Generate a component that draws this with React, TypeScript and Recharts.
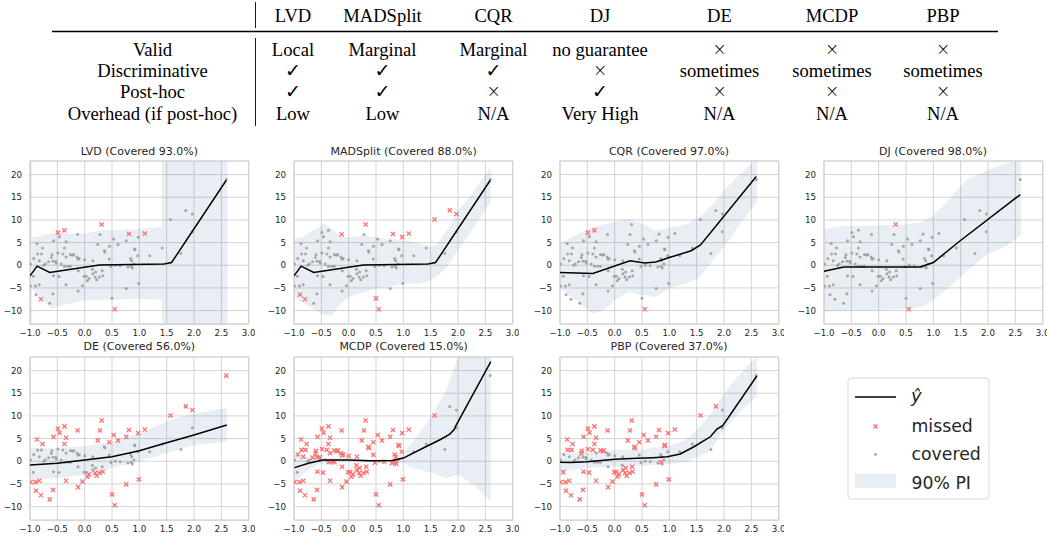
import React from 'react';
import { ComposedChart, Area, Scatter, XAxis, YAxis, CartesianGrid, ReferenceLine } from 'recharts';

// ---------- shared data points ----------
const POINT_X = [
  -0.99, -0.99, -0.94, -0.93, -0.9, -0.89, -0.87, -0.86, -0.83, -0.83,
  -0.8, -0.79, -0.77, -0.72, -0.64, -0.61, -0.6, -0.58, -0.58, -0.57,
  -0.57, -0.53, -0.49, -0.49, -0.47, -0.46, -0.4, -0.37, -0.37, -0.37,
  -0.34, -0.34, -0.34, -0.31, -0.26, -0.26, -0.2, -0.14, -0.13, -0.12,
  -0.12, -0.12, -0.04, -0.01, 0.0, 0.03, 0.05, 0.08, 0.14, 0.15,
  0.15, 0.19, 0.22, 0.24, 0.27, 0.28, 0.31, 0.32, 0.33, 0.36,
  0.37, 0.45, 0.45, 0.5, 0.53, 0.55, 0.56, 0.61, 0.76, 0.76,
  0.79, 0.81, 0.84, 0.86, 0.87, 0.91, 0.92, 0.97, 0.98, 0.99,
  1.1, 1.19, 1.42, 1.57, 1.76, 1.85, 1.97, 1.97, 2.59,
  -0.75, -0.66, -0.52, -0.43, -0.22, -0.1, 0.2, 0.48, 0.9, 0.85, 0.65,
];
const POINT_Y = [
  0.3, -4.6, -2.4, 1.5, -4.6, -6.5, 4.8, 2.5, -4.3, 1.0,
  -7.5, 2.5, 3.8, 0.3, -8.4, 1.7, 2.3, -6.3, 0.9, 5.4,
  -2.3, 0.9, 7.2, 2.7, -2.5, 6.3, 2.5, 7.7, 3.8, -0.2,
  5.2, 1.8, -4.3, -0.2, 2.4, -0.2, 2.4, 1.8, 6.8, 1.3,
  -1.2, -5.7, -4.5, -2.4, 1.2, -2.4, -3.4, -2.9, -0.9, 1.0,
  -1.9, -2.6, -3.2, 4.6, -2.6, 6.8, 9.0, -1.2, -2.3, 3.2,
  2.9, 4.2, 1.4, -7.3, 5.8, -9.7, 0.0, 4.6, 5.4, -5.1,
  -0.4, 6.9, 1.5, 1.0, -0.6, 3.6, 3.4, 2.1, 6.2, -4.0,
  7.0, 2.1, 3.8, 10.1, 2.6, 12.1, 11.3, 7.4, 18.9,
  0.0, 0.8, 0.5, 0.3, 2.2, 1.5, -1.5, -0.3, 0.3, -0.2, -0.1,
];

// ---------- axis ticks ----------
const X_TICKS = [-1, -0.5, 0, 0.5, 1, 1.5, 2, 2.5, 3];
const Y_TICKS = [-10, -5, 0, 5, 10, 15, 20];
const X_DOMAIN = [-1, 3];
const Y_DOMAIN = [-13, 23];

// ---------- LVD ----------
const LVD_BAND_X = [-1.0, -0.96, -0.96, -0.9, -0.6, -0.3, 0.0, 0.3, 0.5, 1.0, 1.2, 1.41, 1.41, 2.61];
const LVD_BAND_LO = [-13, -13, -4.8, -6.3, -9.6, -8.5, -7.7, -7.6, -7.6, -7.4, -7.5, -7.6, -13, -13];
const LVD_BAND_HI = [23, 23, 6.2, 6.3, 7.1, 7.0, 7.0, 7.7, 7.8, 8.0, 8.3, 8.5, 23, 23];
const LVD_LINE_X = [-1.0, -0.87, -0.64, 0.27, 1.45, 1.59, 2.59];
const LVD_LINE_Y = [-2.35, -0.2, -1.6, 0.05, 0.3, 0.6, 18.75];
const LVD_MISSED = [22, 27, 56, 71, 80, 10, 65];

// ---------- MADSplit ----------
const MAD_BAND_X = [-1.0, -0.85, -0.65, -0.45, -0.3, -0.15, 0.0, 0.3, 0.5, 0.8, 1.0, 1.3, 1.5, 1.6, 1.8, 2.0, 2.3, 2.6];
const MAD_BAND_HI = [5.9, 6.25, 7.7, 9.2, 8.1, 6.25, 6.2, 6.6, 6.2, 5.5, 5.5, 4.8, 4.2, 4.4, 7.7, 12.1, 16.5, 21.7];
const MAD_BAND_LO = [-7.0, -8.2, -9.6, -11.0, -11.0, -8.5, -7.0, -5.9, -5.1, -4.7, -4.0, -4.0, -3.3, -2.6, -0.4, 3.3, 8.5, 14.0];
const MAD_LINE_X = [-1.0, -0.87, -0.64, 0.27, 1.45, 1.59, 2.59];
const MAD_LINE_Y = [-2.35, -0.2, -1.6, 0.05, 0.3, 0.6, 18.75];
const MAD_MISSED = [38, 56, 71, 78, 80, 5, 10, 63, 65, 83, 85, 86];

// ---------- CQR ----------
const CQR_BAND_X = [-1.0, -0.7, -0.4, -0.2, 0.0, 0.25, 0.5, 0.75, 1.0, 1.3, 1.55, 1.8, 2.0, 2.3, 2.6];
const CQR_BAND_HI = [4.8, 6.8, 8.4, 9.0, 9.6, 10.2, 9.2, 7.6, 8.3, 9.0, 10.7, 13.5, 16.5, 20.2, 23.5];
const CQR_BAND_LO = [-5.1, -7.7, -10.7, -9.9, -7.7, -5.9, -6.6, -7.0, -5.1, -4.0, -2.6, 1.1, 4.0, 9.2, 14.0];
const CQR_LINE_X = [-1.0, -0.4, 0.28, 0.55, 0.75, 1.0, 1.4, 1.57, 2.59];
const CQR_LINE_Y = [-1.6, -1.8, 1.0, 0.5, 0.7, 1.7, 3.2, 4.5, 19.6];
const CQR_MISSED = [22, 27, 65];

// ---------- DJ ----------
const DJ_BAND_X = [-1.0, -0.7, 0.0, 0.5, 0.8, 1.0, 1.3, 1.6, 2.0, 2.3, 2.6];
const DJ_BAND_HI = [7.9, 8.6, 8.8, 9.0, 9.6, 11.0, 14.7, 18.8, 21.0, 22.4, 23.2];
const DJ_BAND_LO = [-10.3, -10.0, -9.9, -9.6, -9.2, -7.7, -4.8, -1.5, 2.6, 4.0, 6.6];
const DJ_LINE_X = [-1.0, -0.64, 0.76, 1.0, 1.48, 2.59];
const DJ_LINE_Y = [-1.3, -0.4, -0.4, 0.6, 5.3, 15.6];
const DJ_MISSED = [56, 65];

// ---------- DE ----------
const DE_BAND_X = [-1.0, -0.5, 0.0, 0.5, 1.0, 1.5, 2.0, 2.6];
const DE_BAND_HI = [2.9, 2.9, 3.3, 4.3, 6.1, 8.75, 10.6, 11.7];
const DE_BAND_LO = [-4.1, -3.75, -3.0, -1.5, 0.0, 1.8, 3.6, 4.3];
const DE_LINE_X = [-1.0, -0.5, 0.0, 0.5, 1.0, 1.5, 2.0, 2.6];
const DE_LINE_Y = [-0.8, -0.45, 0.3, 1.0, 2.3, 4.1, 5.8, 8.0];
const DE_MISSED = [1, 4, 5, 6, 8, 10, 12, 14, 17, 19, 22, 25, 27, 28, 30, 32, 38, 41, 42, 46, 47, 51, 52, 53, 54, 55, 56, 58, 61, 63, 64, 65, 67, 68, 69, 71, 78, 79, 80, 83, 85, 86, 88];

// ---------- MCDP ----------
const MCDP_BAND_X = [-1.0, -0.78, -0.53, -0.3, 0.0, 0.5, 0.8, 1.0, 1.2, 1.53, 1.78, 2.02, 2.32, 2.6];
const MCDP_BAND_HI = [1.5, 1.0, 0.8, 0.7, 0.6, 0.4, 0.5, 1.8, 4.7, 10.2, 15.7, 23.5, 24, 24];
const MCDP_BAND_LO = [-4.5, -2.3, -0.6, 0.0, 0.0, -0.2, -0.2, -0.5, -1.6, -2.6, -3.75, -3.0, -5.6, -8.8];
const MCDP_LINE_X = [-0.99, -0.72, -0.47, 0.0, 0.38, 0.8, 1.0, 1.41, 1.68, 1.85, 1.93, 1.96, 2.6];
const MCDP_LINE_Y = [-1.4, -0.4, 0.3, 0.3, 0.1, 0.15, 0.7, 3.2, 4.8, 6.0, 7.0, 7.8, 22.0];
const MCDP_COVERED = [0, 2, 13, 66, 81, 82, 84, 85, 86, 87, 88, 89, 91, 92, 97];

// ---------- PBP ----------
const PBP_BAND_X = [-1.0, -0.5, 0.0, 0.5, 1.0, 1.3, 1.5, 1.75, 2.0, 2.3, 2.6];
const PBP_BAND_HI = [1.8, 1.9, 2.5, 2.6, 3.4, 4.7, 6.9, 10.2, 15.0, 19.4, 23.0];
const PBP_BAND_LO = [-2.3, -1.5, -1.2, -1.0, -0.6, -0.1, 0.9, 2.3, 7.0, 11.0, 14.3];
const PBP_LINE_X = [-1.0, -0.8, -0.5, -0.2, 0.0, 0.41, 0.7, 0.96, 1.2, 1.45, 1.75, 1.87, 1.98, 2.6];
const PBP_LINE_Y = [-0.2, -0.3, -0.1, 0.2, 0.45, 0.65, 0.8, 1.0, 1.6, 3.2, 5.4, 7.1, 7.9, 18.8];
const PBP_COVERED = [0, 3, 9, 13, 18, 21, 29, 31, 33, 35, 37, 39, 40, 44, 48, 49, 62, 66, 70, 72, 73, 74, 77, 81, 82, 84, 86, 87, 88, 89, 90, 91, 92, 94, 96, 97, 99];

// ---------- table ----------
const TABLE_COLUMNS = ['LVD', 'MADSplit', 'CQR', 'DJ', 'DE', 'MCDP', 'PBP'];
const TABLE_ROW_LABELS = ['Valid', 'Discriminative', 'Post-hoc', 'Overhead (if post-hoc)'];
const TABLE_ROWS = [
  ['Local', 'Marginal', 'Marginal', 'no guarantee', '×', '×', '×'],
  ['✓', '✓', '✓', '×', 'sometimes', 'sometimes', 'sometimes'],
  ['✓', '✓', '×', '✓', '×', '×', '×'],
  ['Low', 'Low', 'N/A', 'Very High', 'N/A', 'N/A', 'N/A'],
];
const LEGEND_LABELS = ['ŷ', 'missed', 'covered', '90% PI'];

// ---------- layout / style ----------
const COL_LEFT = [30, 294.3, 559.7, 823.7];
const ROW_TOP = [160.7, 357.1];
const PLOT_W = 218.7;
const PLOT_H = 163.2;
const TITLE_CY = [151.7, 347.3];
const GRID = '#d3d3d3';
const BAND_FILL = '#4c72b0';
const MISS_COLOR = '#ff6f6f';
const COVER_COLOR = '#9a9a9a';
const TEXT_COLOR = '#262626';
const SANS = 'DejaVu Sans, sans-serif';
const SERIF = 'Liberation Serif, Times New Roman, serif';
const TABLE_FONT = 18.6;

const PANELS = [
  { title: 'LVD (Covered 93.0%)', bx: LVD_BAND_X, lo: LVD_BAND_LO, hi: LVD_BAND_HI, lx: LVD_LINE_X, ly: LVD_LINE_Y, missed: LVD_MISSED },
  { title: 'MADSplit (Covered 88.0%)', bx: MAD_BAND_X, lo: MAD_BAND_LO, hi: MAD_BAND_HI, lx: MAD_LINE_X, ly: MAD_LINE_Y, missed: MAD_MISSED },
  { title: 'CQR (Covered 97.0%)', bx: CQR_BAND_X, lo: CQR_BAND_LO, hi: CQR_BAND_HI, lx: CQR_LINE_X, ly: CQR_LINE_Y, missed: CQR_MISSED },
  { title: 'DJ (Covered 98.0%)', bx: DJ_BAND_X, lo: DJ_BAND_LO, hi: DJ_BAND_HI, lx: DJ_LINE_X, ly: DJ_LINE_Y, missed: DJ_MISSED },
  { title: 'DE (Covered 56.0%)', bx: DE_BAND_X, lo: DE_BAND_LO, hi: DE_BAND_HI, lx: DE_LINE_X, ly: DE_LINE_Y, missed: DE_MISSED },
  { title: 'MCDP (Covered 15.0%)', bx: MCDP_BAND_X, lo: MCDP_BAND_LO, hi: MCDP_BAND_HI, lx: MCDP_LINE_X, ly: MCDP_LINE_Y, covered: MCDP_COVERED },
  { title: 'PBP (Covered 37.0%)', bx: PBP_BAND_X, lo: PBP_BAND_LO, hi: PBP_BAND_HI, lx: PBP_LINE_X, ly: PBP_LINE_Y, covered: PBP_COVERED },
];

const fmtX = (v: number) => (v < 0 ? '\u2212' : '') + Math.abs(v).toFixed(1);
const fmtY = (v: number) => (v < 0 ? '\u2212' : '') + String(Math.abs(v));

const CoveredDot = (p: any) => <circle cx={p.cx} cy={p.cy} r={1.5} fill={COVER_COLOR} fillOpacity={0.85} />;
const MissedCross = (p: any) => {
  const s = 2.1;
  const { cx, cy } = p;
  return (
    <path
      d={`M${cx - s},${cy - s}L${cx + s},${cy + s}M${cx - s},${cy + s}L${cx + s},${cy - s}`}
      stroke={MISS_COLOR}
      strokeWidth={1.3}
      fill="none"
    />
  );
};
const NoShape = () => <g />;

function Panel({ spec, left, top, titleCy }: any) {
  const YW = 40;
  const MT = 6;
  const MR = 6;
  const XH = 22;
  const W = YW + PLOT_W + MR;
  const H = MT + PLOT_H + XH;
  const bandData = spec.bx.map((x: number, i: number) => ({ x, band: [spec.lo[i], spec.hi[i]] }));
  const lineData = spec.lx.map((x: number, i: number) => ({ x, y: spec.ly[i] }));
  const isMissed = (i: number) => (spec.missed ? spec.missed.includes(i) : !spec.covered.includes(i));
  const covered: any[] = [];
  const missed: any[] = [];
  POINT_X.forEach((x, i) => {
    const pt = { x, y: POINT_Y[i] };
    if (isMissed(i)) missed.push(pt);
    else covered.push(pt);
  });
  const tickStyle = { fontSize: 8.7, fill: TEXT_COLOR, fontFamily: SANS };
  return (
    <>
      <div
        style={{
          position: 'absolute',
          left: left - 20,
          width: PLOT_W + 40,
          top: titleCy - 8,
          height: 16,
          lineHeight: '16px',
          textAlign: 'center',
          fontFamily: SANS,
          fontSize: 11,
          color: TEXT_COLOR,
          whiteSpace: 'nowrap',
        }}
      >
        {spec.title}
      </div>
      <div style={{ position: 'absolute', left: left - YW, top: top - MT }}>
        <ComposedChart width={W} height={H} data={bandData} margin={{ top: MT, right: MR, left: 0, bottom: 0 }}>
          <CartesianGrid stroke={GRID} strokeWidth={1} />
          <XAxis
            dataKey="x"
            type="number"
            domain={X_DOMAIN}
            ticks={X_TICKS}
            allowDataOverflow
            tickFormatter={fmtX}
            tick={tickStyle}
            tickLine={false}
            tickSize={4}
            tickMargin={2}
            height={XH}
            axisLine={{ stroke: GRID, strokeWidth: 1.2 }}
            interval={0}
          />
          <YAxis
            dataKey="y"
            type="number"
            domain={Y_DOMAIN}
            ticks={Y_TICKS}
            allowDataOverflow
            tickFormatter={fmtY}
            tick={tickStyle}
            tickLine={false}
            tickSize={5}
            tickMargin={3}
            width={YW}
            axisLine={{ stroke: GRID, strokeWidth: 1.2 }}
            interval={0}
          />
          <ReferenceLine y={23} stroke={GRID} strokeWidth={1.2} />
          <ReferenceLine x={3} stroke={GRID} strokeWidth={1.2} />
          <Area
            dataKey="band"
            type="linear"
            stroke="none"
            fill={BAND_FILL}
            fillOpacity={0.12}
            isAnimationActive={false}
          />
          <Scatter data={covered} shape={CoveredDot} isAnimationActive={false} />
          <Scatter data={missed} shape={MissedCross} isAnimationActive={false} />
          <Scatter
            data={lineData}
            shape={NoShape}
            line={{ stroke: '#000', strokeWidth: 1.5 }}
            lineType="joint"
            isAnimationActive={false}
          />
        </ComposedChart>
      </div>
    </>
  );
}

const TABLE_COL_X = [293, 382.5, 493.5, 600, 719.5, 832, 943];
const TABLE_LABEL_X = 152.5;
const TABLE_HEADER_Y = 21.5;
const TABLE_ROW_Y = [55.5, 76.5, 98, 119.5];

function Cell({ v, x, y }: { v: string; x: number; y: number }) {
  if (v === '×') {
    return (
      <text x={x} y={y - 1} textAnchor="middle" fontFamily="DejaVu Sans, sans-serif" fontWeight={200} fontSize={17} fill="#000">
        {v}
      </text>
    );
  }
  if (v === '✓') {
    return (
      <text x={x} y={y} textAnchor="middle" fontFamily="DejaVu Sans, sans-serif" fontSize={19} fill="#000">
        {v}
      </text>
    );
  }
  return (
    <text x={x} y={y} textAnchor="middle" fontFamily={SERIF} fontSize={TABLE_FONT} fill="#000">
      {v}
    </text>
  );
}

function Overlay() {
  return (
    <svg width={1047} height={538} style={{ position: 'absolute', left: 0, top: 0 }}>
      {/* table */}
      <line x1={255.5} x2={255.5} y1={2} y2={28} stroke="#000" strokeWidth={0.9} />
      <line x1={255.5} x2={255.5} y1={38} y2={126} stroke="#000" strokeWidth={0.9} />
      <line x1={52} x2={998} y1={31.5} y2={31.5} stroke="#000" strokeWidth={1.6} />
      {TABLE_COLUMNS.map((c, i) => (
        <text key={c} x={TABLE_COL_X[i]} y={TABLE_HEADER_Y} textAnchor="middle" fontFamily={SERIF} fontSize={TABLE_FONT} fill="#000">
          {c}
        </text>
      ))}
      {TABLE_ROW_LABELS.map((r, ri) => (
        <text key={r} x={TABLE_LABEL_X} y={TABLE_ROW_Y[ri]} textAnchor="middle" fontFamily={SERIF} fontSize={TABLE_FONT} fill="#000">
          {r}
        </text>
      ))}
      {TABLE_ROWS.map((row, ri) =>
        row.map((v, ci) => <Cell key={`${ri}-${ci}`} v={v} x={TABLE_COL_X[ci]} y={TABLE_ROW_Y[ri]} />)
      )}
      {/* legend */}
      <rect x={848} y={378} width={141} height={121} rx={3} fill="#fff" stroke="#d9d9d9" strokeWidth={1} />
      <line x1={855} x2={896} y1={397} y2={397} stroke="#000" strokeWidth={1.5} />
      <text x={911} y={402} fontFamily={SANS} fontStyle="italic" fontSize={18} fill={TEXT_COLOR}>
        {LEGEND_LABELS[0]}
      </text>
      <path d="M873.5,424.5L877.5,428.5M873.5,428.5L877.5,424.5" stroke={MISS_COLOR} strokeWidth={1.2} />
      <text x={911.5} y={432.3} fontFamily={SANS} fontSize={17.3} fill={TEXT_COLOR}>
        {LEGEND_LABELS[1]}
      </text>
      <circle cx={875.5} cy={454.5} r={1.3} fill={COVER_COLOR} />
      <text x={911.5} y={460} fontFamily={SANS} fontSize={17.3} fill={TEXT_COLOR}>
        {LEGEND_LABELS[2]}
      </text>
      <rect x={855} y={473.5} width={41} height={14.5} fill={BAND_FILL} fillOpacity={0.12} />
      <text x={911.5} y={488.5} fontFamily={SANS} fontSize={17.3} fill={TEXT_COLOR}>
        {LEGEND_LABELS[3]}
      </text>
    </svg>
  );
}

export default function App() {
  return (
    <div style={{ position: 'absolute', left: 0, top: 0, width: 1047, height: 538, background: '#fff', overflow: 'hidden' }}>
      <Overlay />
      {PANELS.map((spec, i) => {
        const r = Math.floor(i / 4);
        const c = i % 4;
        return <Panel key={spec.title} spec={spec} left={COL_LEFT[c]} top={ROW_TOP[r]} titleCy={TITLE_CY[r]} />;
      })}
    </div>
  );
}
